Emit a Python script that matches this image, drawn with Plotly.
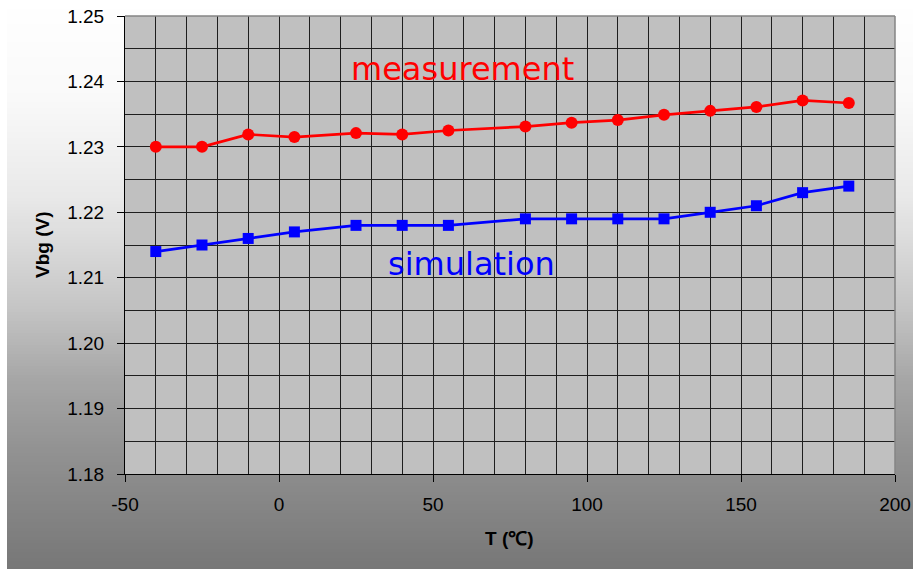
import plotly.graph_objects as go

# ---- data ----
temps = [-40, -25, -10, 5, 25, 40, 55, 80, 95, 110, 125, 140, 155, 170, 185]
measurement = [1.2300, 1.2300, 1.2319, 1.2315, 1.2321, 1.2319, 1.2325, 1.2331,
               1.2337, 1.2341, 1.2349, 1.2355, 1.2361, 1.2371, 1.2367]
simulation = [1.214, 1.215, 1.216, 1.217, 1.218, 1.218, 1.218, 1.219,
              1.219, 1.219, 1.219, 1.220, 1.221, 1.223, 1.224]
x_ticks = [-50, 0, 50, 100, 150, 200]
y_ticks = [1.18, 1.19, 1.20, 1.21, 1.22, 1.23, 1.24, 1.25]

W, H = 913, 569
ML, MR, MT, MB = 125, 18, 16, 95
PW, PH = W - ML - MR, H - MT - MB


def px_to_paper_x(px):
    return (px - ML) / PW


def px_to_paper_y(py):
    return (H - MB - py) / PH


# gradient keypoints (pixel y -> gray level)
grad = [(0, 255), (100, 249), (200, 232), (300, 200), (380, 166), (450, 146), (520, 130), (569, 119)]


def gray_at(y):
    for (y0, g0), (y1, g1) in zip(grad[:-1], grad[1:]):
        if y0 <= y <= y1:
            return g0 + (g1 - g0) * (y - y0) / (y1 - y0)
    return grad[-1][1]


shapes = []
step = 3
for y in range(0, H, step):
    g = int(round(gray_at(y + step / 2)))
    shapes.append(dict(type="rect", xref="paper", yref="paper", layer="below",
                       x0=px_to_paper_x(7), x1=px_to_paper_x(W + 2),
                       y0=px_to_paper_y(y + step + 0.5), y1=px_to_paper_y(y),
                       line=dict(width=0), fillcolor=f"rgb({g},{g},{g})"))
# plot area fill
shapes.append(dict(type="rect", xref="paper", yref="paper", layer="below",
                   x0=0, x1=1, y0=0, y1=1, line=dict(width=0), fillcolor="#C0C0C0"))
# top and right gray border
shapes.append(dict(type="line", xref="paper", yref="paper", layer="above",
                   x0=0, x1=1, y0=1, y1=1, line=dict(color="#858585", width=1.5)))
shapes.append(dict(type="line", xref="paper", yref="paper", layer="above",
                   x0=1, x1=1, y0=0, y1=1, line=dict(color="#858585", width=1.5)))

fig = go.Figure()
fig.add_trace(go.Scatter(x=temps, y=measurement, mode="lines+markers", name="measurement",
                         line=dict(color="#FF0000", width=2.7),
                         marker=dict(symbol="circle", size=12, color="#FF0000")))
fig.add_trace(go.Scatter(x=temps, y=simulation, mode="lines+markers", name="simulation",
                         line=dict(color="#0000FF", width=2.7),
                         marker=dict(symbol="square", size=11, color="#0000FF")))

tick_font = dict(family="Liberation Sans, Arial, sans-serif", size=19, color="black")
grid_col = "#1e1e1e"

fig.update_xaxes(range=[-50, 200], tickvals=x_ticks, ticktext=[str(v) for v in x_ticks],
                 showgrid=True, gridcolor=grid_col, gridwidth=1,
                 minor=dict(dtick=10, tick0=0, showgrid=True, gridcolor=grid_col, gridwidth=1, ticklen=0),
                 ticks="outside", ticklen=7, tickcolor="black", tickwidth=1,
                 showline=True, linecolor="black", linewidth=1,
                 tickfont=tick_font, zeroline=False, ticklabelstandoff=6)
fig.update_yaxes(range=[1.18, 1.25], tickvals=y_ticks, ticktext=[f"{v:.2f}" for v in y_ticks],
                 showgrid=True, gridcolor=grid_col, gridwidth=1,
                 minor=dict(dtick=0.005, tick0=1.18, showgrid=True, gridcolor=grid_col, gridwidth=1, ticklen=0),
                 ticks="outside", ticklen=7, tickcolor="black", tickwidth=1,
                 showline=True, linecolor="black", linewidth=1,
                 tickfont=tick_font, zeroline=False, ticklabelstandoff=9)

annotations = [
    dict(text="measurement", x=59.6, y=1.2419, xref="x", yref="y", showarrow=False,
         xanchor="center", yanchor="middle",
         font=dict(family="DejaVu Sans, Verdana, sans-serif", size=32, color="#FF0000")),
    dict(text="simulation", x=62.6, y=1.2121, xref="x", yref="y", showarrow=False,
         xanchor="center", yanchor="middle",
         font=dict(family="DejaVu Sans, Verdana, sans-serif", size=32, color="#0000FF")),
    dict(text="<b>Vbg (V)</b>", x=px_to_paper_x(42), y=0.5, xref="paper", yref="paper",
         showarrow=False, textangle=-90, xanchor="center", yanchor="middle",
         font=dict(family="Liberation Sans, Arial, sans-serif", size=19, color="black")),
    dict(text="<b>T (℃)</b>", x=px_to_paper_x(509), y=px_to_paper_y(538), xref="paper", yref="paper",
         showarrow=False, xanchor="center", yanchor="middle",
         font=dict(family="Liberation Sans, Arial, sans-serif", size=19, color="black")),
]

fig.update_layout(width=W, height=H, margin=dict(l=ML, r=MR, t=MT, b=MB, autoexpand=False),
                  paper_bgcolor="white", plot_bgcolor="rgba(0,0,0,0)",
                  showlegend=False, shapes=shapes, annotations=annotations)

fig.write_html("out.html")
